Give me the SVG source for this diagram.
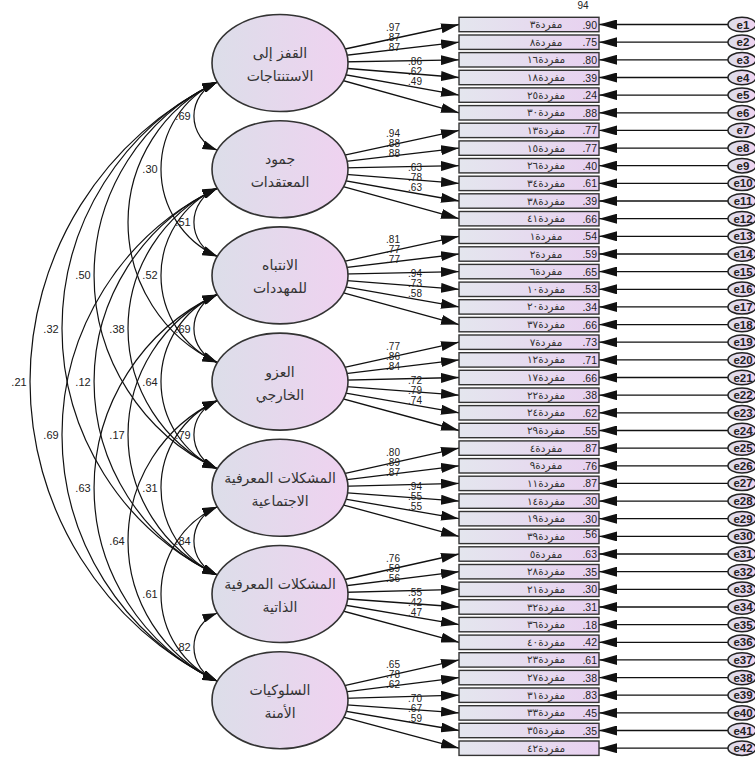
<svg xmlns="http://www.w3.org/2000/svg" width="755" height="762" viewBox="0 0 755 762">
<defs>
<linearGradient id="gl" x1="0" y1="0" x2="1" y2="0"><stop offset="0" stop-color="#dcdee9"/><stop offset="1" stop-color="#efd2f0"/></linearGradient>
<linearGradient id="gb" x1="0" y1="0" x2="1" y2="0"><stop offset="0" stop-color="#e4e6ee"/><stop offset="1" stop-color="#e8d0f0"/></linearGradient>
<marker id="ah" markerUnits="userSpaceOnUse" markerWidth="18" markerHeight="10" refX="18" refY="5" orient="auto"><path d="M0,0 L18,5 L0,10 z" fill="#111"/></marker>
<marker id="ah2" markerUnits="userSpaceOnUse" markerWidth="15" markerHeight="9" refX="15" refY="4.5" orient="auto-start-reverse"><path d="M0,0 L15,4.5 L0,9 z" fill="#111"/></marker>
<style>
.ln{stroke:#111;stroke-width:1.3;fill:none;marker-end:url(#ah)}
.cv{stroke:#111;stroke-width:1.2;fill:none;marker-start:url(#ah2);marker-end:url(#ah2)}
.bx{fill:url(#gb);stroke:#333;stroke-width:1.4}
.lv{fill:url(#gl);stroke:#333;stroke-width:1.6}
.er{fill:url(#gl);stroke:#222;stroke-width:1.5}
.n{font-family:"Liberation Sans",Arial,sans-serif;font-size:11px;fill:#222}
.s{font-size:10px}
.c{text-anchor:middle}
.v{font-family:"Liberation Sans",Arial,sans-serif;font-size:10.5px;fill:#222;text-anchor:end}
.ar{font-family:"DejaVu Sans",sans-serif;font-size:10.5px;fill:#333;text-anchor:middle}
.ft{font-family:"DejaVu Sans",sans-serif;font-size:14px;fill:#333;text-anchor:middle}
.el{font-family:"Liberation Sans",Arial,sans-serif;font-size:11.5px;font-weight:bold;fill:#222;text-anchor:middle}
</style>
</defs>
<g id="connectors">
<g id="loadings">
<line class="ln" x1="280" y1="63" x2="459" y2="24.5"/><line class="ln" x1="280" y1="63" x2="459" y2="42.2"/><line class="ln" x1="280" y1="63" x2="459" y2="59.8"/><line class="ln" x1="280" y1="63" x2="459" y2="77.5"/><line class="ln" x1="280" y1="63" x2="459" y2="95.1"/><line class="ln" x1="280" y1="63" x2="459" y2="112.8"/>
<line class="ln" x1="280" y1="169.2" x2="459" y2="130.4"/><line class="ln" x1="280" y1="169.2" x2="459" y2="148.1"/><line class="ln" x1="280" y1="169.2" x2="459" y2="165.7"/><line class="ln" x1="280" y1="169.2" x2="459" y2="183.4"/><line class="ln" x1="280" y1="169.2" x2="459" y2="201"/><line class="ln" x1="280" y1="169.2" x2="459" y2="218.7"/>
<line class="ln" x1="280" y1="275.4" x2="459" y2="236.3"/><line class="ln" x1="280" y1="275.4" x2="459" y2="254"/><line class="ln" x1="280" y1="275.4" x2="459" y2="271.6"/><line class="ln" x1="280" y1="275.4" x2="459" y2="289.3"/><line class="ln" x1="280" y1="275.4" x2="459" y2="306.9"/><line class="ln" x1="280" y1="275.4" x2="459" y2="324.6"/>
<line class="ln" x1="280" y1="381.6" x2="459" y2="342.2"/><line class="ln" x1="280" y1="381.6" x2="459" y2="359.9"/><line class="ln" x1="280" y1="381.6" x2="459" y2="377.5"/><line class="ln" x1="280" y1="381.6" x2="459" y2="395.2"/><line class="ln" x1="280" y1="381.6" x2="459" y2="412.8"/><line class="ln" x1="280" y1="381.6" x2="459" y2="430.5"/>
<line class="ln" x1="280" y1="487.8" x2="459" y2="448.1"/><line class="ln" x1="280" y1="487.8" x2="459" y2="465.8"/><line class="ln" x1="280" y1="487.8" x2="459" y2="483.4"/><line class="ln" x1="280" y1="487.8" x2="459" y2="501.1"/><line class="ln" x1="280" y1="487.8" x2="459" y2="518.7"/><line class="ln" x1="280" y1="487.8" x2="459" y2="536.4"/>
<line class="ln" x1="280" y1="594" x2="459" y2="554"/><line class="ln" x1="280" y1="594" x2="459" y2="571.7"/><line class="ln" x1="280" y1="594" x2="459" y2="589.3"/><line class="ln" x1="280" y1="594" x2="459" y2="607"/><line class="ln" x1="280" y1="594" x2="459" y2="624.6"/><line class="ln" x1="280" y1="594" x2="459" y2="642.3"/>
<line class="ln" x1="280" y1="700.2" x2="459" y2="659.9"/><line class="ln" x1="280" y1="700.2" x2="459" y2="677.6"/><line class="ln" x1="280" y1="700.2" x2="459" y2="695.2"/><line class="ln" x1="280" y1="700.2" x2="459" y2="712.9"/><line class="ln" x1="280" y1="700.2" x2="459" y2="730.5"/><line class="ln" x1="280" y1="700.2" x2="459" y2="748.2"/>
</g>
<g id="errors-arrows">
<line class="ln" x1="728" y1="24.5" x2="599" y2="24.5"/><line class="ln" x1="728" y1="42.2" x2="599" y2="42.2"/><line class="ln" x1="728" y1="59.8" x2="599" y2="59.8"/><line class="ln" x1="728" y1="77.5" x2="599" y2="77.5"/><line class="ln" x1="728" y1="95.1" x2="599" y2="95.1"/><line class="ln" x1="728" y1="112.8" x2="599" y2="112.8"/>
<line class="ln" x1="728" y1="130.4" x2="599" y2="130.4"/><line class="ln" x1="728" y1="148.1" x2="599" y2="148.1"/><line class="ln" x1="728" y1="165.7" x2="599" y2="165.7"/><line class="ln" x1="728" y1="183.4" x2="599" y2="183.4"/><line class="ln" x1="728" y1="201" x2="599" y2="201"/><line class="ln" x1="728" y1="218.7" x2="599" y2="218.7"/>
<line class="ln" x1="728" y1="236.3" x2="599" y2="236.3"/><line class="ln" x1="728" y1="254" x2="599" y2="254"/><line class="ln" x1="728" y1="271.6" x2="599" y2="271.6"/><line class="ln" x1="728" y1="289.3" x2="599" y2="289.3"/><line class="ln" x1="728" y1="306.9" x2="599" y2="306.9"/><line class="ln" x1="728" y1="324.6" x2="599" y2="324.6"/>
<line class="ln" x1="728" y1="342.2" x2="599" y2="342.2"/><line class="ln" x1="728" y1="359.9" x2="599" y2="359.9"/><line class="ln" x1="728" y1="377.5" x2="599" y2="377.5"/><line class="ln" x1="728" y1="395.2" x2="599" y2="395.2"/><line class="ln" x1="728" y1="412.8" x2="599" y2="412.8"/><line class="ln" x1="728" y1="430.5" x2="599" y2="430.5"/>
<line class="ln" x1="728" y1="448.1" x2="599" y2="448.1"/><line class="ln" x1="728" y1="465.8" x2="599" y2="465.8"/><line class="ln" x1="728" y1="483.4" x2="599" y2="483.4"/><line class="ln" x1="728" y1="501.1" x2="599" y2="501.1"/><line class="ln" x1="728" y1="518.7" x2="599" y2="518.7"/><line class="ln" x1="728" y1="536.4" x2="599" y2="536.4"/>
<line class="ln" x1="728" y1="554" x2="599" y2="554"/><line class="ln" x1="728" y1="571.7" x2="599" y2="571.7"/><line class="ln" x1="728" y1="589.3" x2="599" y2="589.3"/><line class="ln" x1="728" y1="607" x2="599" y2="607"/><line class="ln" x1="728" y1="624.6" x2="599" y2="624.6"/><line class="ln" x1="728" y1="642.3" x2="599" y2="642.3"/>
<line class="ln" x1="728" y1="659.9" x2="599" y2="659.9"/><line class="ln" x1="728" y1="677.6" x2="599" y2="677.6"/><line class="ln" x1="728" y1="695.2" x2="599" y2="695.2"/><line class="ln" x1="728" y1="712.9" x2="599" y2="712.9"/><line class="ln" x1="728" y1="730.5" x2="599" y2="730.5"/><line class="ln" x1="728" y1="748.2" x2="599" y2="748.2"/>
</g>
<g id="covariances">
<path class="cv" d="M217.4,82 A36.5,36.5 0 0 0 217.4,150.2"/>
<path class="cv" d="M217.4,188.2 A36.5,36.5 0 0 0 217.4,256.4"/>
<path class="cv" d="M217.4,294.4 A36.5,36.5 0 0 0 217.4,362.6"/>
<path class="cv" d="M217.4,400.6 A36.5,36.5 0 0 0 217.4,468.8"/>
<path class="cv" d="M217.4,506.8 A36.5,36.5 0 0 0 217.4,575"/>
<path class="cv" d="M217.4,613 A36.5,36.5 0 0 0 217.4,681.2"/>
<path class="cv" d="M217.4,82 A95.6,95.6 0 0 0 217.4,256.4"/>
<path class="cv" d="M217.4,188.2 A95.6,95.6 0 0 0 217.4,362.6"/>
<path class="cv" d="M217.4,294.4 A95.6,95.6 0 0 0 217.4,468.8"/>
<path class="cv" d="M217.4,400.6 A95.6,95.6 0 0 0 217.4,575"/>
<path class="cv" d="M217.4,506.8 A95.6,95.6 0 0 0 217.4,681.2"/>
<path class="cv" d="M217.4,82 A154.8,154.8 0 0 0 217.4,362.6"/>
<path class="cv" d="M217.4,188.2 A154.8,154.8 0 0 0 217.4,468.8"/>
<path class="cv" d="M217.4,294.4 A154.8,154.8 0 0 0 217.4,575"/>
<path class="cv" d="M217.4,400.6 A154.8,154.8 0 0 0 217.4,681.2"/>
<path class="cv" d="M217.4,82 A213.3,213.3 0 0 0 217.4,468.8"/>
<path class="cv" d="M217.4,188.2 A213.3,213.3 0 0 0 217.4,575"/>
<path class="cv" d="M217.4,294.4 A213.3,213.3 0 0 0 217.4,681.2"/>
<path class="cv" d="M217.4,82 A273.2,273.2 0 0 0 217.4,575"/>
<path class="cv" d="M217.4,188.2 A273.2,273.2 0 0 0 217.4,681.2"/>
<path class="cv" d="M217.4,82 A333.2,333.2 0 0 0 217.4,681.2"/>
</g>
<g id="connector-labels" class="n">
<text class="c" x="183" y="120.1">.69</text><text class="c" x="183" y="226.3">.51</text><text class="c" x="183" y="332.5">.69</text><text class="c" x="183" y="438.7">.79</text><text class="c" x="183" y="544.9">.84</text><text class="c" x="183" y="651.1">.82</text>
<text class="c" x="150" y="173.2">.30</text><text class="c" x="150" y="279.4">.52</text><text class="c" x="150" y="385.6">.64</text><text class="c" x="150" y="491.8">.31</text><text class="c" x="150" y="598">.61</text>
<text class="c" x="117" y="332.5">.38</text><text class="c" x="117" y="438.7">.17</text><text class="c" x="117" y="544.9">.64</text>
<text class="c" x="83" y="279.4">.50</text><text class="c" x="83" y="385.6">.12</text><text class="c" x="83" y="491.8">.63</text>
<text class="c" x="51" y="332.5">.32</text><text class="c" x="51" y="438.7">.69</text>
<text class="c" x="19" y="385.6">.21</text>
<g class="s">
<text class="c" x="393" y="31">.97</text><text class="c" x="393" y="41">.87</text><text class="c" x="393" y="51">.87</text><text class="c" x="415" y="65">.86</text><text class="c" x="415" y="75">.62</text><text class="c" x="415" y="85">.49</text>
<text class="c" x="393" y="137.2">.94</text><text class="c" x="393" y="147.2">.88</text><text class="c" x="393" y="157.2">.88</text><text class="c" x="415" y="171.2">.63</text><text class="c" x="415" y="181.2">.78</text><text class="c" x="415" y="191.2">.63</text>
<text class="c" x="393" y="243.4">.81</text><text class="c" x="393" y="253.4">.77</text><text class="c" x="393" y="263.4">.77</text><text class="c" x="415" y="277.4">.94</text><text class="c" x="415" y="287.4">.73</text><text class="c" x="415" y="297.4">.58</text>
<text class="c" x="393" y="349.6">.77</text><text class="c" x="393" y="359.6">.86</text><text class="c" x="393" y="369.6">.84</text><text class="c" x="415" y="383.6">.72</text><text class="c" x="415" y="393.6">.79</text><text class="c" x="415" y="403.6">.74</text>
<text class="c" x="393" y="455.8">.80</text><text class="c" x="393" y="465.8">.89</text><text class="c" x="393" y="475.8">.87</text><text class="c" x="415" y="489.8">.94</text><text class="c" x="415" y="499.8">.55</text><text class="c" x="415" y="509.8">.55</text>
<text class="c" x="393" y="562">.76</text><text class="c" x="393" y="572">.59</text><text class="c" x="393" y="582">.56</text><text class="c" x="415" y="596">.55</text><text class="c" x="415" y="606">.42</text><text class="c" x="415" y="616">.47</text>
<text class="c" x="393" y="668.2">.65</text><text class="c" x="393" y="678.2">.78</text><text class="c" x="393" y="688.2">.62</text><text class="c" x="415" y="702.2">.70</text><text class="c" x="415" y="712.2">.67</text><text class="c" x="415" y="722.2">.59</text>
</g>
</g>
</g>
<g id="F1"><ellipse class="lv" cx="280" cy="63" rx="68" ry="48.5"/><text class="ft" x="280" y="58">القفز إلى</text><text class="ft" x="280" y="81">الاستنتاجات</text></g>
<g id="F2"><ellipse class="lv" cx="280" cy="169.2" rx="68" ry="48.5"/><text class="ft" x="280" y="164.2">جمود</text><text class="ft" x="280" y="187.2">المعتقدات</text></g>
<g id="F3"><ellipse class="lv" cx="280" cy="275.4" rx="68" ry="48.5"/><text class="ft" x="280" y="270.4">الانتباه</text><text class="ft" x="280" y="293.4">للمهددات</text></g>
<g id="F4"><ellipse class="lv" cx="280" cy="381.6" rx="68" ry="48.5"/><text class="ft" x="280" y="376.6">العزو</text><text class="ft" x="280" y="399.6">الخارجي</text></g>
<g id="F5"><ellipse class="lv" cx="280" cy="487.8" rx="68" ry="48.5"/><text class="ft" x="280" y="482.8">المشكلات المعرفية</text><text class="ft" x="280" y="505.8">الاجتماعية</text></g>
<g id="F6"><ellipse class="lv" cx="280" cy="594" rx="68" ry="48.5"/><text class="ft" x="280" y="589">المشكلات المعرفية</text><text class="ft" x="280" y="612">الذاتية</text></g>
<g id="F7"><ellipse class="lv" cx="280" cy="700.2" rx="68" ry="48.5"/><text class="ft" x="280" y="695.2">السلوكيات</text><text class="ft" x="280" y="718.2">الأمنة</text></g>
<text class="n c" x="583" y="9" style="font-size:10px">94</text>
<g id="items">
<g id="x1"><rect class="bx" x="459" y="17.3" width="140" height="14.4"/><text class="ar" x="546" y="28">مفردة٣</text><text class="v" x="597" y="28.5">.90</text></g>
<g id="x2"><rect class="bx" x="459" y="35" width="140" height="14.4"/><text class="ar" x="546" y="45.7">مفردة٨</text><text class="v" x="597" y="46.2">.75</text></g>
<g id="x3"><rect class="bx" x="459" y="52.6" width="140" height="14.4"/><text class="ar" x="546" y="63.3">مفردة١٦</text><text class="v" x="597" y="63.8">.80</text></g>
<g id="x4"><rect class="bx" x="459" y="70.3" width="140" height="14.4"/><text class="ar" x="546" y="81">مفردة١٨</text><text class="v" x="597" y="81.5">.39</text></g>
<g id="x5"><rect class="bx" x="459" y="87.9" width="140" height="14.4"/><text class="ar" x="546" y="98.6">مفردة٢٥</text><text class="v" x="597" y="99.1">.24</text></g>
<g id="x6"><rect class="bx" x="459" y="105.6" width="140" height="14.4"/><text class="ar" x="546" y="116.3">مفردة٣٠</text><text class="v" x="597" y="116.8">.88</text></g>
<g id="x7"><rect class="bx" x="459" y="123.2" width="140" height="14.4"/><text class="ar" x="546" y="133.9">مفردة١٣</text><text class="v" x="597" y="134.4">.77</text></g>
<g id="x8"><rect class="bx" x="459" y="140.9" width="140" height="14.4"/><text class="ar" x="546" y="151.6">مفردة١٥</text><text class="v" x="597" y="152.1">.77</text></g>
<g id="x9"><rect class="bx" x="459" y="158.5" width="140" height="14.4"/><text class="ar" x="546" y="169.2">مفردة٢٦</text><text class="v" x="597" y="169.7">.40</text></g>
<g id="x10"><rect class="bx" x="459" y="176.2" width="140" height="14.4"/><text class="ar" x="546" y="186.9">مفردة٣٤</text><text class="v" x="597" y="187.4">.61</text></g>
<g id="x11"><rect class="bx" x="459" y="193.8" width="140" height="14.4"/><text class="ar" x="546" y="204.5">مفردة٣٨</text><text class="v" x="597" y="205">.39</text></g>
<g id="x12"><rect class="bx" x="459" y="211.5" width="140" height="14.4"/><text class="ar" x="546" y="222.2">مفردة٤١</text><text class="v" x="597" y="222.7">.66</text></g>
<g id="x13"><rect class="bx" x="459" y="229.1" width="140" height="14.4"/><text class="ar" x="546" y="239.8">مفردة١</text><text class="v" x="597" y="240.3">.54</text></g>
<g id="x14"><rect class="bx" x="459" y="246.8" width="140" height="14.4"/><text class="ar" x="546" y="257.5">مفردة٢</text><text class="v" x="597" y="258">.59</text></g>
<g id="x15"><rect class="bx" x="459" y="264.4" width="140" height="14.4"/><text class="ar" x="546" y="275.1">مفردة٦</text><text class="v" x="597" y="275.6">.65</text></g>
<g id="x16"><rect class="bx" x="459" y="282.1" width="140" height="14.4"/><text class="ar" x="546" y="292.8">مفردة١٠</text><text class="v" x="597" y="293.3">.53</text></g>
<g id="x17"><rect class="bx" x="459" y="299.7" width="140" height="14.4"/><text class="ar" x="546" y="310.4">مفردة٢٠</text><text class="v" x="597" y="310.9">.34</text></g>
<g id="x18"><rect class="bx" x="459" y="317.4" width="140" height="14.4"/><text class="ar" x="546" y="328.1">مفردة٣٧</text><text class="v" x="597" y="328.6">.66</text></g>
<g id="x19"><rect class="bx" x="459" y="335" width="140" height="14.4"/><text class="ar" x="546" y="345.7">مفردة٧</text><text class="v" x="597" y="346.2">.73</text></g>
<g id="x20"><rect class="bx" x="459" y="352.7" width="140" height="14.4"/><text class="ar" x="546" y="363.4">مفردة١٢</text><text class="v" x="597" y="363.9">.71</text></g>
<g id="x21"><rect class="bx" x="459" y="370.3" width="140" height="14.4"/><text class="ar" x="546" y="381">مفردة١٧</text><text class="v" x="597" y="381.5">.66</text></g>
<g id="x22"><rect class="bx" x="459" y="388" width="140" height="14.4"/><text class="ar" x="546" y="398.7">مفردة٢٢</text><text class="v" x="597" y="399.2">.38</text></g>
<g id="x23"><rect class="bx" x="459" y="405.6" width="140" height="14.4"/><text class="ar" x="546" y="416.3">مفردة٢٤</text><text class="v" x="597" y="416.8">.62</text></g>
<g id="x24"><rect class="bx" x="459" y="423.3" width="140" height="14.4"/><text class="ar" x="546" y="434">مفردة٢٩</text><text class="v" x="597" y="434.5">.55</text></g>
<g id="x25"><rect class="bx" x="459" y="440.9" width="140" height="14.4"/><text class="ar" x="546" y="451.6">مفردة٤</text><text class="v" x="597" y="452.1">.87</text></g>
<g id="x26"><rect class="bx" x="459" y="458.6" width="140" height="14.4"/><text class="ar" x="546" y="469.3">مفردة٩</text><text class="v" x="597" y="469.8">.76</text></g>
<g id="x27"><rect class="bx" x="459" y="476.2" width="140" height="14.4"/><text class="ar" x="546" y="486.9">مفردة١١</text><text class="v" x="597" y="487.4">.87</text></g>
<g id="x28"><rect class="bx" x="459" y="493.9" width="140" height="14.4"/><text class="ar" x="546" y="504.6">مفردة١٤</text><text class="v" x="597" y="505.1">.30</text></g>
<g id="x29"><rect class="bx" x="459" y="511.5" width="140" height="14.4"/><text class="ar" x="546" y="522.2">مفردة١٩</text><text class="v" x="597" y="522.7">.30</text></g>
<g id="x30"><rect class="bx" x="459" y="529.2" width="140" height="14.4"/><text class="ar" x="546" y="539.9">مفردة٣٩</text><text class="v" x="597" y="538">.56</text></g>
<g id="x31"><rect class="bx" x="459" y="546.8" width="140" height="14.4"/><text class="ar" x="546" y="557.5">مفردة٥</text><text class="v" x="597" y="558">.63</text></g>
<g id="x32"><rect class="bx" x="459" y="564.5" width="140" height="14.4"/><text class="ar" x="546" y="575.2">مفردة٢٨</text><text class="v" x="597" y="575.7">.35</text></g>
<g id="x33"><rect class="bx" x="459" y="582.1" width="140" height="14.4"/><text class="ar" x="546" y="592.8">مفردة٢١</text><text class="v" x="597" y="593.3">.30</text></g>
<g id="x34"><rect class="bx" x="459" y="599.8" width="140" height="14.4"/><text class="ar" x="546" y="610.5">مفردة٣٢</text><text class="v" x="597" y="611">.31</text></g>
<g id="x35"><rect class="bx" x="459" y="617.4" width="140" height="14.4"/><text class="ar" x="546" y="628.1">مفردة٣٦</text><text class="v" x="597" y="628.6">.18</text></g>
<g id="x36"><rect class="bx" x="459" y="635.1" width="140" height="14.4"/><text class="ar" x="546" y="645.8">مفردة٤٠</text><text class="v" x="597" y="646.3">.42</text></g>
<g id="x37"><rect class="bx" x="459" y="652.7" width="140" height="14.4"/><text class="ar" x="546" y="663.4">مفردة٢٣</text><text class="v" x="597" y="663.9">.61</text></g>
<g id="x38"><rect class="bx" x="459" y="670.4" width="140" height="14.4"/><text class="ar" x="546" y="681.1">مفردة٢٧</text><text class="v" x="597" y="681.6">.38</text></g>
<g id="x39"><rect class="bx" x="459" y="688" width="140" height="14.4"/><text class="ar" x="546" y="698.7">مفردة٣١</text><text class="v" x="597" y="699.2">.83</text></g>
<g id="x40"><rect class="bx" x="459" y="705.7" width="140" height="14.4"/><text class="ar" x="546" y="716.4">مفردة٣٣</text><text class="v" x="597" y="716.9">.45</text></g>
<g id="x41"><rect class="bx" x="459" y="723.3" width="140" height="14.4"/><text class="ar" x="546" y="734">مفردة٣٥</text><text class="v" x="597" y="734.5">.35</text></g>
<g id="x42"><rect class="bx" x="459" y="741" width="140" height="14.4"/><text class="ar" x="546" y="751.7">مفردة٤٢</text></g>
</g>
<g id="errors">
<g id="e1"><ellipse class="er" cx="742" cy="24.5" rx="14" ry="7.2"/><text class="el" x="743" y="28.5">e1</text></g>
<g id="e2"><ellipse class="er" cx="742" cy="42.2" rx="14" ry="7.2"/><text class="el" x="743" y="46.2">e2</text></g>
<g id="e3"><ellipse class="er" cx="742" cy="59.8" rx="14" ry="7.2"/><text class="el" x="743" y="63.8">e3</text></g>
<g id="e4"><ellipse class="er" cx="742" cy="77.5" rx="14" ry="7.2"/><text class="el" x="743" y="81.5">e4</text></g>
<g id="e5"><ellipse class="er" cx="742" cy="95.1" rx="14" ry="7.2"/><text class="el" x="743" y="99.1">e5</text></g>
<g id="e6"><ellipse class="er" cx="742" cy="112.8" rx="14" ry="7.2"/><text class="el" x="743" y="116.8">e6</text></g>
<g id="e7"><ellipse class="er" cx="742" cy="130.4" rx="14" ry="7.2"/><text class="el" x="743" y="134.4">e7</text></g>
<g id="e8"><ellipse class="er" cx="742" cy="148.1" rx="14" ry="7.2"/><text class="el" x="743" y="152.1">e8</text></g>
<g id="e9"><ellipse class="er" cx="742" cy="165.7" rx="14" ry="7.2"/><text class="el" x="743" y="169.7">e9</text></g>
<g id="e10"><ellipse class="er" cx="742" cy="183.4" rx="14" ry="7.2"/><text class="el" x="743" y="187.4">e10</text></g>
<g id="e11"><ellipse class="er" cx="742" cy="201" rx="14" ry="7.2"/><text class="el" x="743" y="205">e11</text></g>
<g id="e12"><ellipse class="er" cx="742" cy="218.7" rx="14" ry="7.2"/><text class="el" x="743" y="222.7">e12</text></g>
<g id="e13"><ellipse class="er" cx="742" cy="236.3" rx="14" ry="7.2"/><text class="el" x="743" y="240.3">e13</text></g>
<g id="e14"><ellipse class="er" cx="742" cy="254" rx="14" ry="7.2"/><text class="el" x="743" y="258">e14</text></g>
<g id="e15"><ellipse class="er" cx="742" cy="271.6" rx="14" ry="7.2"/><text class="el" x="743" y="275.6">e15</text></g>
<g id="e16"><ellipse class="er" cx="742" cy="289.3" rx="14" ry="7.2"/><text class="el" x="743" y="293.3">e16</text></g>
<g id="e17"><ellipse class="er" cx="742" cy="306.9" rx="14" ry="7.2"/><text class="el" x="743" y="310.9">e17</text></g>
<g id="e18"><ellipse class="er" cx="742" cy="324.6" rx="14" ry="7.2"/><text class="el" x="743" y="328.6">e18</text></g>
<g id="e19"><ellipse class="er" cx="742" cy="342.2" rx="14" ry="7.2"/><text class="el" x="743" y="346.2">e19</text></g>
<g id="e20"><ellipse class="er" cx="742" cy="359.9" rx="14" ry="7.2"/><text class="el" x="743" y="363.9">e20</text></g>
<g id="e21"><ellipse class="er" cx="742" cy="377.5" rx="14" ry="7.2"/><text class="el" x="743" y="381.5">e21</text></g>
<g id="e22"><ellipse class="er" cx="742" cy="395.2" rx="14" ry="7.2"/><text class="el" x="743" y="399.2">e22</text></g>
<g id="e23"><ellipse class="er" cx="742" cy="412.8" rx="14" ry="7.2"/><text class="el" x="743" y="416.8">e23</text></g>
<g id="e24"><ellipse class="er" cx="742" cy="430.5" rx="14" ry="7.2"/><text class="el" x="743" y="434.5">e24</text></g>
<g id="e25"><ellipse class="er" cx="742" cy="448.1" rx="14" ry="7.2"/><text class="el" x="743" y="452.1">e25</text></g>
<g id="e26"><ellipse class="er" cx="742" cy="465.8" rx="14" ry="7.2"/><text class="el" x="743" y="469.8">e26</text></g>
<g id="e27"><ellipse class="er" cx="742" cy="483.4" rx="14" ry="7.2"/><text class="el" x="743" y="487.4">e27</text></g>
<g id="e28"><ellipse class="er" cx="742" cy="501.1" rx="14" ry="7.2"/><text class="el" x="743" y="505.1">e28</text></g>
<g id="e29"><ellipse class="er" cx="742" cy="518.7" rx="14" ry="7.2"/><text class="el" x="743" y="522.7">e29</text></g>
<g id="e30"><ellipse class="er" cx="742" cy="536.4" rx="14" ry="7.2"/><text class="el" x="743" y="540.4">e30</text></g>
<g id="e31"><ellipse class="er" cx="742" cy="554" rx="14" ry="7.2"/><text class="el" x="743" y="558">e31</text></g>
<g id="e32"><ellipse class="er" cx="742" cy="571.7" rx="14" ry="7.2"/><text class="el" x="743" y="575.7">e32</text></g>
<g id="e33"><ellipse class="er" cx="742" cy="589.3" rx="14" ry="7.2"/><text class="el" x="743" y="593.3">e33</text></g>
<g id="e34"><ellipse class="er" cx="742" cy="607" rx="14" ry="7.2"/><text class="el" x="743" y="611">e34</text></g>
<g id="e35"><ellipse class="er" cx="742" cy="624.6" rx="14" ry="7.2"/><text class="el" x="743" y="628.6">e35</text></g>
<g id="e36"><ellipse class="er" cx="742" cy="642.3" rx="14" ry="7.2"/><text class="el" x="743" y="646.3">e36</text></g>
<g id="e37"><ellipse class="er" cx="742" cy="659.9" rx="14" ry="7.2"/><text class="el" x="743" y="663.9">e37</text></g>
<g id="e38"><ellipse class="er" cx="742" cy="677.6" rx="14" ry="7.2"/><text class="el" x="743" y="681.6">e38</text></g>
<g id="e39"><ellipse class="er" cx="742" cy="695.2" rx="14" ry="7.2"/><text class="el" x="743" y="699.2">e39</text></g>
<g id="e40"><ellipse class="er" cx="742" cy="712.9" rx="14" ry="7.2"/><text class="el" x="743" y="716.9">e40</text></g>
<g id="e41"><ellipse class="er" cx="742" cy="730.5" rx="14" ry="7.2"/><text class="el" x="743" y="734.5">e41</text></g>
<g id="e42"><ellipse class="er" cx="742" cy="748.2" rx="14" ry="7.2"/><text class="el" x="743" y="752.2">e42</text></g>
</g>
</svg>
